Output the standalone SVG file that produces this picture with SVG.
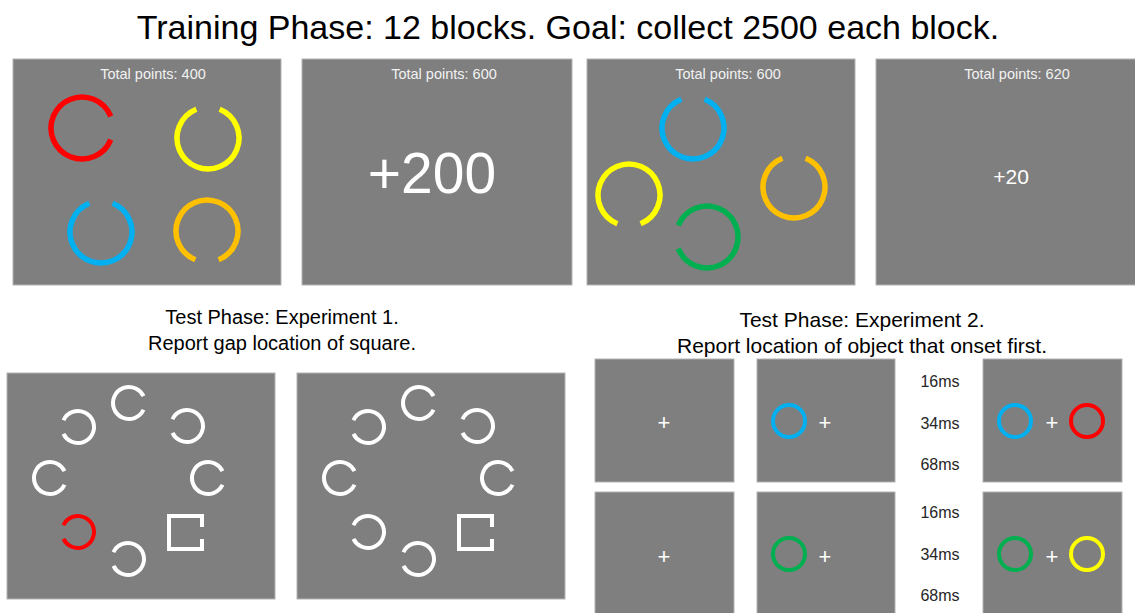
<svg xmlns="http://www.w3.org/2000/svg" width="1135" height="613" viewBox="0 0 1135 613">
<style>
.bg{fill:#ffffff}
.panel{fill:#7f7f7f;stroke:#b4b4b4;stroke-width:1}
.ring{fill:none;stroke-width:5.5;stroke-dasharray:316 44}
.cring{fill:none;stroke:#ffffff;stroke-width:4;stroke-dasharray:310 50}
.oring{fill:none;stroke-width:4}
.pts{font-family:"Liberation Sans",Arial,sans-serif;font-size:14.5px;fill:#f2f2f2;text-anchor:middle}
.big{font-family:"Liberation Sans",Arial,sans-serif;fill:#ffffff;text-anchor:middle}
.hd{font-family:"Liberation Sans",Arial,sans-serif;fill:#000000;text-anchor:middle}
.ms{font-family:"Liberation Sans",Arial,sans-serif;font-size:16px;fill:#262626;text-anchor:middle}
.plus{font-family:"Liberation Sans",Arial,sans-serif;font-size:22px;fill:#ffffff;text-anchor:middle}
.sq{fill:none;stroke:#ffffff;stroke-width:4}
</style>
<rect class="bg" x="0" y="0" width="1135" height="613"/>
<text class="hd" x="568" y="39" font-size="34">Training Phase: 12 blocks. Goal: collect 2500 each block.</text>

<g id="train1">
<rect class="panel" x="13" y="59" width="268" height="226"/>
<text class="pts" x="153" y="79">Total points: 400</text>
<circle class="ring" pathLength="360" stroke="#ff0000" cx="82" cy="128" r="31" transform="rotate(22 82 128)"/>
<circle class="ring" pathLength="360" stroke="#ffff00" cx="208" cy="138" r="31" transform="rotate(-68 208 138)"/>
<circle class="ring" pathLength="360" stroke="#00b0f0" cx="101" cy="232" r="31" transform="rotate(-68 101 232)"/>
<circle class="ring" pathLength="360" stroke="#ffc000" cx="207" cy="231" r="31" transform="rotate(112 207 231)"/>
</g>

<g id="train2">
<rect class="panel" x="302" y="59" width="270" height="226"/>
<text class="pts" x="444" y="79">Total points: 600</text>
<text class="big" x="432" y="193" font-size="57">+200</text>
</g>

<g id="train3">
<rect class="panel" x="587" y="59" width="268" height="226"/>
<text class="pts" x="728" y="79">Total points: 600</text>
<circle class="ring" pathLength="360" stroke="#00b0f0" cx="693" cy="128" r="31" transform="rotate(-68 693 128)"/>
<circle class="ring" pathLength="360" stroke="#ffff00" cx="629" cy="195" r="31" transform="rotate(112 629 195)"/>
<circle class="ring" pathLength="360" stroke="#00b050" cx="707" cy="237" r="31" transform="rotate(202 707 237)"/>
<circle class="ring" pathLength="360" stroke="#ffc000" cx="794" cy="187" r="31" transform="rotate(-68 794 187)"/>
</g>

<g id="train4">
<rect class="panel" x="876" y="59" width="260" height="226"/>
<text class="pts" x="1017" y="79">Total points: 620</text>
<text class="big" x="1011" y="184" font-size="21">+20</text>
</g>

<g id="exp1-heading">
<text class="hd" x="282" y="324" font-size="20">Test Phase: Experiment 1.</text>
<text class="hd" x="282" y="350" font-size="20">Report gap location of square.</text>
</g>

<g id="exp1-panel1">
<rect class="panel" x="7" y="373" width="268" height="226"/>
<circle class="cring" pathLength="360" cx="129" cy="403" r="16" transform="rotate(25 129 403)"/>
<circle class="cring" pathLength="360" cx="78" cy="427" r="16" transform="rotate(205 78 427)"/>
<circle class="cring" pathLength="360" cx="187" cy="426" r="16" transform="rotate(205 187 426)"/>
<circle class="cring" pathLength="360" cx="50" cy="478" r="16" transform="rotate(25 50 478)"/>
<circle class="cring" pathLength="360" cx="208" cy="478" r="16" transform="rotate(25 208 478)"/>
<circle class="cring" pathLength="360" cx="78" cy="532" r="16" transform="rotate(205 78 532)" style="stroke:#ff0000"/>
<circle class="cring" pathLength="360" cx="128" cy="559" r="16" transform="rotate(205 128 559)"/>
<path class="sq" d="M202,527 V516 H169 V549 H202 V539"/>
</g>

<g id="exp1-panel2">
<rect class="panel" x="297" y="373" width="268" height="226"/>
<circle class="cring" pathLength="360" cx="419" cy="403" r="16" transform="rotate(25 419 403)"/>
<circle class="cring" pathLength="360" cx="368" cy="427" r="16" transform="rotate(205 368 427)"/>
<circle class="cring" pathLength="360" cx="477" cy="426" r="16" transform="rotate(205 477 426)"/>
<circle class="cring" pathLength="360" cx="340" cy="478" r="16" transform="rotate(25 340 478)"/>
<circle class="cring" pathLength="360" cx="498" cy="478" r="16" transform="rotate(25 498 478)"/>
<circle class="cring" pathLength="360" cx="368" cy="532" r="16" transform="rotate(205 368 532)"/>
<circle class="cring" pathLength="360" cx="418" cy="559" r="16" transform="rotate(205 418 559)"/>
<path class="sq" d="M492,527 V516 H459 V549 H492 V539"/>
</g>

<g id="exp2-heading">
<text class="hd" x="862" y="327" font-size="21">Test Phase: Experiment 2.</text>
<text class="hd" x="862" y="353" font-size="21">Report location of object that onset first.</text>
</g>

<g id="exp2-row1-fix">
<rect class="panel" x="595" y="359" width="139" height="123"/>
<text class="plus" x="664" y="430">+</text>
</g>
<g id="exp2-row1-first">
<rect class="panel" x="757" y="359" width="138" height="123"/>
<circle class="oring" stroke="#00b0f0" cx="789" cy="421" r="16"/>
<text class="plus" x="825" y="430">+</text>
</g>
<g id="exp2-row1-soa">
<text class="ms" x="940" y="387">16ms</text>
<text class="ms" x="940" y="429">34ms</text>
<text class="ms" x="940" y="470">68ms</text>
</g>
<g id="exp2-row1-both">
<rect class="panel" x="983" y="359" width="139" height="123"/>
<circle class="oring" stroke="#00b0f0" cx="1015" cy="421" r="16"/>
<text class="plus" x="1052" y="430">+</text>
<circle class="oring" stroke="#ff0000" cx="1087" cy="421" r="16"/>
</g>

<g id="exp2-row2-fix">
<rect class="panel" x="595" y="492" width="139" height="130"/>
<text class="plus" x="664" y="564">+</text>
</g>
<g id="exp2-row2-first">
<rect class="panel" x="757" y="492" width="138" height="130"/>
<circle class="oring" stroke="#00b050" cx="789" cy="554" r="16"/>
<text class="plus" x="825" y="564">+</text>
</g>
<g id="exp2-row2-soa">
<text class="ms" x="940" y="518">16ms</text>
<text class="ms" x="940" y="560">34ms</text>
<text class="ms" x="940" y="601">68ms</text>
</g>
<g id="exp2-row2-both">
<rect class="panel" x="983" y="492" width="139" height="130"/>
<circle class="oring" stroke="#00b050" cx="1015" cy="554" r="16"/>
<text class="plus" x="1052" y="564">+</text>
<circle class="oring" stroke="#ffff00" cx="1087" cy="554" r="16"/>
</g>
</svg>
